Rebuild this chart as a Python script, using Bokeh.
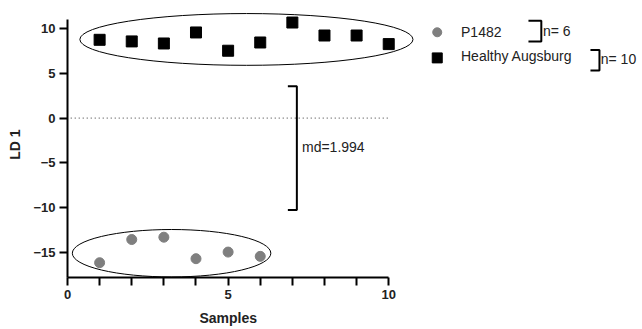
from bokeh.plotting import figure
from bokeh.models import FixedTicker, Range1d, Title
from bokeh.embed import file_html
from bokeh.resources import INLINE
from bokeh.core.properties import value

# Data
healthy_x = [1, 2, 3, 4, 5, 6, 7, 8, 9, 10]
healthy_y = [8.74, 8.56, 8.33, 9.56, 7.52, 8.44, 10.67, 9.22, 9.22, 8.26]
p1482_x = [1, 2, 3, 4, 5, 6]
p1482_y = [-16.15, -13.56, -13.3, -15.7, -14.96, -15.44]
series_names = ["P1482", "Healthy Augsburg"]
series_n = ["n= 6", "n= 10"]
md_label = "md=1.994"
x_ticks = [0, 5, 10]
x_minor = [1, 2, 3, 4, 6, 7, 8, 9]
y_ticks = [-15, -10, -5, 0, 5, 10]

FONT = "Liberation Sans"
TXT = "#222222"

p = figure(frame_width=575, frame_height=266, output_backend="svg", toolbar_location=None,
           x_range=Range1d(0, 17.9), y_range=Range1d(-17.8, 11.9),
           min_border_left=67, min_border_right=0, min_border_top=11,
           min_border_bottom=52)
p.outline_line_color = None
p.grid.visible = False
p.background_fill_color = "white"

for ax in (p.xaxis[0], p.yaxis[0]):
    ax.axis_line_width = 2
    ax.axis_line_color = "black"
    ax.major_tick_line_width = 2
    ax.minor_tick_line_width = 2
    ax.major_tick_out = 8
    ax.major_tick_in = 0
    ax.minor_tick_out = 8
    ax.minor_tick_in = 0
    ax.major_label_text_font = FONT
    ax.major_label_text_font_style = "bold"
    ax.major_label_text_font_size = "13px"
    ax.major_label_text_color = TXT
    ax.axis_label_text_font = FONT
    ax.axis_label_text_font_style = "bold"
    ax.axis_label_text_font_size = "14px"
    ax.axis_label_text_color = TXT

p.xaxis.ticker = FixedTicker(ticks=x_ticks, minor_ticks=x_minor)
p.xaxis.bounds = (0, 10)
p.xaxis.major_label_standoff = 4
p.yaxis.ticker = FixedTicker(ticks=y_ticks, minor_ticks=[])
p.yaxis.bounds = (-17.8, 11)
p.yaxis.axis_label = "LD 1"
p.yaxis.major_label_standoff = 4
p.yaxis.axis_label_standoff = 7

# x-axis title placed under the bounded axis (centred on x = 5)
p.add_layout(Title(text="Samples", align="left", offset=132, standoff=13,
                   text_font=FONT, text_font_style="bold", text_font_size="14px",
                   text_color=TXT), "below")

# zero dotted line
p.line([0.1, 10], [0, 0], line_color="#333333", line_width=1, line_dash="1 3")

# ellipses
p.ellipse(x=[5.57], y=[8.78], width=10.37, height=5.78, fill_alpha=0,
          line_color="black", line_width=1)
p.ellipse(x=[3.24], y=[-15.09], width=6.18, height=5.3, fill_alpha=0,
          line_color="black", line_width=1)

# data
p.scatter(healthy_x, healthy_y, marker="square", size=11, fill_color="black",
          line_color="black")
p.scatter(p1482_x, p1482_y, marker="circle", size=10, fill_color="#7f7f7f",
          line_color="#7f7f7f")

# md bracket
p.line([6.86, 7.14, 7.14, 6.86], [3.56, 3.56, -10.26, -10.26], line_color="black",
       line_width=2)
p.text([7.3], [-3.26], text=[md_label], text_font=value(FONT), text_font_size="14px",
       text_baseline="middle", text_color=TXT)

# legend
p.scatter([11.51], [9.58], marker="circle", size=9, fill_color="#7f7f7f",
          line_color="#7f7f7f")
p.scatter([11.51], [6.72], marker="square", size=10, fill_color="black",
          line_color="black")
p.text([12.25, 12.25], [9.66, 6.98], text=series_names, text_font=value(FONT),
       text_font_size="14px", text_baseline="middle", text_color=TXT)
p.line([14.35, 14.75, 14.75, 14.35], [10.88, 10.88, 8.54, 8.54], line_color="black",
       line_width=2)
p.text([14.8], [9.77], text=[series_n[0]], text_font=value(FONT), text_font_size="14px",
       text_baseline="middle", text_color=TXT)
p.line([16.28, 16.56, 16.56, 16.28], [7.61, 7.61, 5.30, 5.30], line_color="black",
       line_width=2)
p.text([16.6], [6.61], text=[series_n[1]], text_font=value(FONT), text_font_size="14px",
       text_baseline="middle", text_color=TXT)

open("out.html", "w").write(file_html(p, INLINE))
